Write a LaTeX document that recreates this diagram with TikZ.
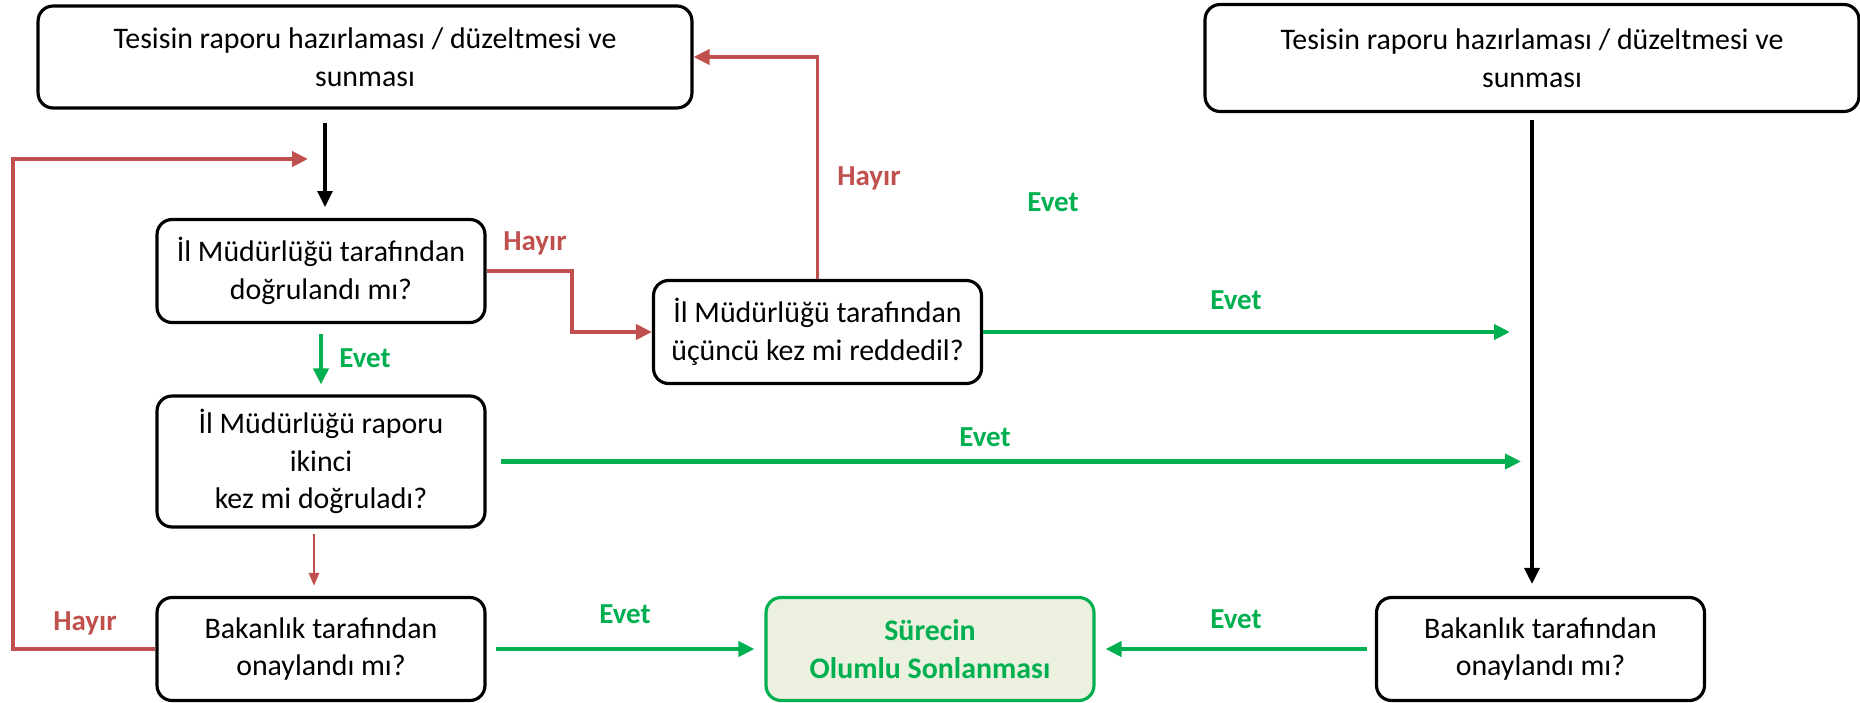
\documentclass[tikz,border=0pt]{standalone}
\usepackage{fontspec}
\setmainfont{Carlito}
\usepackage{tikz}
\usetikzlibrary{arrows.meta}

\definecolor{hayirred}{RGB}{192,80,77}
\definecolor{evetgreen}{RGB}{0,176,80}
\definecolor{sonfill}{RGB}{235,241,222}

\tikzset{
  box/.style={draw, line width=1.8pt, rounded corners=0.3cm, align=center, inner sep=2pt,
              font=\fontsize{17}{21.5}\selectfont},
  wide/.style={box, minimum width=13.08cm, minimum height=2.04cm},
  small/.style={box, minimum width=6.56cm, minimum height=2.06cm},
  final/.style={small, draw=evetgreen, fill=sonfill, text=evetgreen,
                font=\fontsize{17}{21.5}\selectfont\bfseries},
  yes/.style={evetgreen, line width=2.3pt},
  no/.style={hayirred, line width=2.3pt},
  yeslbl/.style={text=evetgreen, font=\fontsize{16.5}{19}\selectfont\bfseries},
  nolbl/.style={text=hayirred, font=\fontsize{16.5}{19}\selectfont\bfseries},
  thinhead/.style={-{Triangle[length=0.26cm, width=0.2cm]}}
}

\begin{document}
\begin{tikzpicture}[x=0.02cm, y=-0.02cm, >={Triangle[length=0.32cm, width=0.3cm]}]
  \useasboundingbox (0,0) rectangle (1860,703);

  \node[wide]                          (tesis1) at (365,57)    {Tesisin raporu hazırlaması / düzeltmesi ve\\sunması};
  \node[wide, minimum height=2.14cm]   (tesis2) at (1532,58)   {Tesisin raporu hazırlaması / düzeltmesi ve\\sunması};
  \node[small]                         (ilk)    at (321,271)   {İl Müdürlüğü tarafından\\doğrulandı mı?};
  \node[small]                         (ucuncu) at (817.5,332) {İl Müdürlüğü tarafından\\üçüncü kez mi reddedil?};
  \node[small, minimum height=2.62cm]  (ikinci) at (321,461.5) {İl Müdürlüğü raporu\\ikinci\\kez mi doğruladı?};
  \node[small]                         (bakan1) at (321,649)   {Bakanlık tarafından\\onaylandı mı?};
  \node[final]                         (son)    at (930,649)   {Sürecin\\Olumlu Sonlanması};
  \node[small]                         (bakan2) at (1540.5,649) {Bakanlık tarafından\\onaylandı mı?};

  \coordinate (a1)   at (325,123);
  \coordinate (a2)   at (325,207);
  \coordinate (geri) at (308,159);
  \coordinate (c1)   at (1510,332);
  \coordinate (d1)   at (1521,461.5);

  \draw[->, line width=1.8pt] (a1) -- (a2);
  \draw[->, line width=2pt, shorten <=0.14cm, shorten >=0.24cm]
        (tesis2.south) -- (tesis2.south |- bakan2.north);

  \draw[no, ->] (bakan1.west) -- ++(-142,0) |- (geri);
  \draw[no, ->] (ilk.east) -- ++(85,0) |- (ucuncu.west);
  \draw[no, ->, line width=2pt] (ucuncu.north) |- (tesis1.east);
  \draw[no, thinhead, line width=1.5pt, shorten <=0.1cm, shorten >=0.2cm]
        ([xshift=-0.14cm]ikinci.south) -- ([xshift=-0.14cm]bakan1.north);

  \path[yes, ->]
        (ucuncu.east) edge (c1)
        (ilk.south)   edge [shorten <=0.2cm, shorten >=0.2cm] (ikinci.north)
        (ikinci.east) edge [shorten <=0.28cm] (d1)
        (bakan1.east) edge [shorten <=0.18cm, shorten >=0.2cm] (son.west)
        (bakan2.west) edge [shorten <=0.16cm, shorten >=0.2cm] (son.east);

  \node[nolbl]  (hayir1) at (535,243) {Hayır};
  \node[nolbl]  (hayir2) at (869,178) {Hayır};
  \node[nolbl]  (hayir3) at (85,623)  {Hayır};
  \node[yeslbl] (evet1)  at (1053,202) {Evet};
  \node[yeslbl] (evet2)  at (1236,300) {Evet};
  \node[yeslbl] (evet3)  at (365,358)  {Evet};
  \node[yeslbl] (evet4)  at (985,437)  {Evet};
  \node[yeslbl] (evet5)  at (625,614)  {Evet};
  \node[yeslbl] (evet6)  at (1236,619) {Evet};
\end{tikzpicture}
\end{document}
